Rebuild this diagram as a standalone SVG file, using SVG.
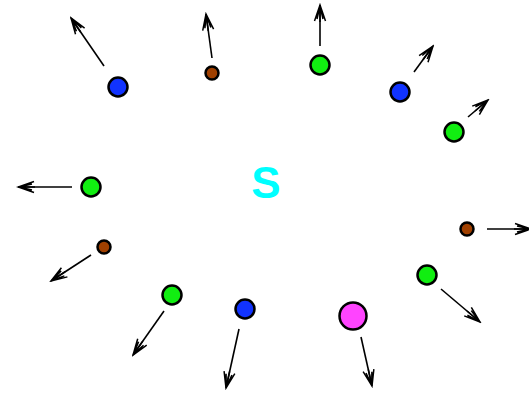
<svg xmlns="http://www.w3.org/2000/svg" width="529" height="393" viewBox="0 0 529 393">
<style>
.ln{stroke:#000;stroke-width:1.6;fill:none;marker-end:url(#ah)}
.n{stroke:#000;stroke-width:2.5}
.b{fill:#1133ff}
.g{fill:#11ee11}
.r{fill:#a04000}
.m{fill:#ff44ff}
</style>
<defs>
<marker id="ah" markerUnits="userSpaceOnUse" viewBox="-18 -8 20 16" refX="0" refY="0" markerWidth="20" markerHeight="16" orient="auto">
<path d="M-16,-5.5 L0,0 L-16,5.5 M-14,-3 L-1,0 L-14,3 M-17,0 L0,0" fill="none" stroke="#000" stroke-width="1.5"/>
</marker>
</defs>
<rect width="529" height="393" fill="#fff"/>
<g id="connectors">
<line class="ln" x1="104" y1="66" x2="71" y2="18"/>
<line class="ln" x1="212" y1="58" x2="206" y2="14"/>
<line class="ln" x1="320" y1="46" x2="320" y2="5"/>
<line class="ln" x1="414" y1="72" x2="433" y2="46"/>
<line class="ln" x1="468" y1="117" x2="488" y2="100"/>
<line class="ln" x1="72" y1="187" x2="18" y2="187"/>
<line class="ln" x1="487" y1="229" x2="531" y2="229"/>
<line class="ln" x1="91" y1="255" x2="51" y2="281"/>
<line class="ln" x1="441" y1="289" x2="480" y2="322"/>
<line class="ln" x1="164" y1="311" x2="133" y2="355"/>
<line class="ln" x1="239" y1="329" x2="226" y2="388"/>
<line class="ln" x1="361" y1="337" x2="372" y2="386"/>
</g>
<g id="n1"><circle class="n b" cx="118" cy="87" r="9.5"/></g>
<g id="n2"><circle class="n r" cx="212" cy="73" r="6.5"/></g>
<g id="n3"><circle class="n g" cx="320" cy="65" r="9.5"/></g>
<g id="n4"><circle class="n b" cx="400" cy="92" r="9.5"/></g>
<g id="n5"><circle class="n g" cx="454" cy="132" r="9.5"/></g>
<g id="n6"><circle class="n g" cx="91" cy="187" r="9.5"/></g>
<g id="n7"><circle class="n r" cx="467" cy="229" r="6.5"/></g>
<g id="n8"><circle class="n r" cx="104" cy="247" r="6.5"/></g>
<g id="n9"><circle class="n g" cx="427" cy="275" r="9.5"/></g>
<g id="n10"><circle class="n g" cx="172" cy="295" r="9.5"/></g>
<g id="n11"><circle class="n b" cx="245" cy="309" r="9.5"/></g>
<g id="n12"><circle class="n m" cx="353" cy="316" r="13.5"/></g>
<g id="label"><text x="266" y="198" text-anchor="middle" font-family="Liberation Sans, Arial, sans-serif" font-weight="bold" font-size="44" fill="#00ffff">S</text></g>
</svg>
